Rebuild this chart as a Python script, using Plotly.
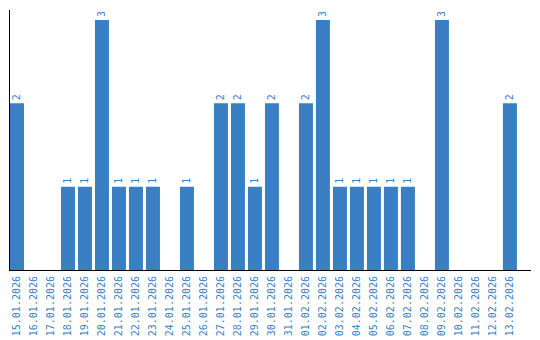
import plotly.graph_objects as go

dates = ["15.01.2026", "16.01.2026", "17.01.2026", "18.01.2026", "19.01.2026",
         "20.01.2026", "21.01.2026", "22.01.2026", "23.01.2026", "24.01.2026",
         "25.01.2026", "26.01.2026", "27.01.2026", "28.01.2026", "29.01.2026",
         "30.01.2026", "31.01.2026", "01.02.2026", "02.02.2026", "03.02.2026",
         "04.02.2026", "05.02.2026", "06.02.2026", "07.02.2026", "08.02.2026",
         "09.02.2026", "10.02.2026", "11.02.2026", "12.02.2026", "13.02.2026"]
counts = [2, 0, 0, 1, 1, 3, 1, 1, 1, 0, 1, 0, 2, 2, 1, 2, 0, 2, 3, 1,
          1, 1, 1, 1, 0, 3, 0, 0, 0, 2]

blue = "#3a7fc4"
labels = [str(v) if v else "" for v in counts]

fig = go.Figure(go.Bar(
    x=dates, y=counts, text=labels, textposition="outside", textangle=-90,
    textfont=dict(size=10, color=blue, family="DejaVu Sans Mono"),
    marker=dict(color=blue, line=dict(width=0)), cliponaxis=False,
    hoverinfo="x+y",
))
fig.update_layout(
    width=540, height=340, margin=dict(l=10, r=9, t=10, b=70),
    paper_bgcolor="white", plot_bgcolor="white", bargap=3/17,
    showlegend=False,
    font=dict(family="DejaVu Sans Mono", size=10, color=blue),
)
fig.update_xaxes(type="category", range=[-0.41, 30.24], tickangle=-90,
                 automargin=False, ticklabelstandoff=1,
                 showline=True, linecolor="black", linewidth=1, ticks="",
                 showgrid=False, tickfont=dict(size=10, color=blue,
                 family="DejaVu Sans Mono"))
fig.update_yaxes(range=[0, 3.12], showline=True, linecolor="black",
                 linewidth=1, showgrid=False, showticklabels=False,
                 ticks="", zeroline=False, automargin=False)
fig.write_html("out.html")
